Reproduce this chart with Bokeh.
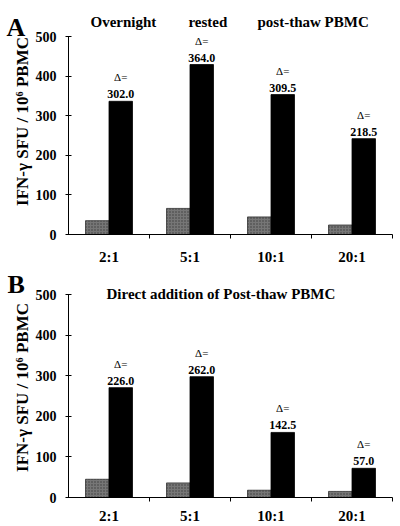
import numpy as np
from bokeh.plotting import figure
from bokeh.models import FixedTicker, Range1d, Label, ColumnDataSource, CustomJSTickFormatter
from bokeh.layouts import column
from bokeh.embed import file_html
from bokeh.resources import INLINE
from bokeh.core.properties import value

categories = ["2:1", "5:1", "10:1", "20:1"]
y_ticks = [0, 100, 200, 300, 400, 500]

a_control = [35, 66, 44.5, 24]
a_stim = [337, 430, 354, 242.5]
a_delta = ["302.0", "364.0", "309.5", "218.5"]

b_control = [45, 36, 18, 15]
b_stim = [271, 298, 160.5, 72]
b_delta = ["226.0", "262.0", "142.5", "57.0"]

a_title = ["Overnight", "rested", "post-thaw PBMC"]
b_title = ["Direct addition of Post-thaw PBMC"]
y_label = "IFN-\u03b3 SFU / 10\u2076 PBMC"

FONT = "Liberation Serif"


def panel(control, stim, deltas, title_words, title_x, title_y, letter,
          letter_offset, letter_standoff, height, border_top, border_bottom,
          y_top, xl_standoff):
    p = figure(width=400, height=height, x_range=Range1d(0, 4),
               y_range=Range1d(0, y_top),
               output_backend="svg", toolbar_location=None,
               min_border_left=68, min_border_right=8,
               min_border_top=border_top, min_border_bottom=border_bottom)
    p.xgrid.visible = False
    p.ygrid.visible = False
    p.outline_line_color = None
    p.background_fill_color = "white"

    centers = np.arange(len(categories)) + 0.5
    bw = 0.29
    src = ColumnDataSource(dict(xc=centers - bw / 2, xs=centers + bw / 2,
                                control=control, stim=stim, delta=deltas,
                                dl=["\u0394="] * len(deltas)))
    p.vbar(x="xc", top="control", bottom=0, width=bw, source=src,
           fill_color="#767676", line_color="#333333", line_width=0.8,
           hatch_pattern="dot", hatch_color="#3c3c3c", hatch_scale=3, hatch_weight=1)
    p.vbar(x="xs", top="stim", bottom=0, width=bw, source=src,
           fill_color="black", line_color="black", line_width=0.8)

    p.text(x="xs", y="stim", text="delta", source=src, text_align="center",
           text_baseline="bottom", y_offset=-3,
           text_font=value(FONT), text_font_style="bold", text_font_size="12px",
           text_color="black")
    p.text(x="xs", y="stim", text="dl", source=src, text_align="center",
           text_baseline="bottom", y_offset=-18,
           text_font=value(FONT), text_font_size="11px", text_color="black")

    xa = p.xaxis[0]
    xa.ticker = FixedTicker(ticks=list(centers), minor_ticks=[1, 2, 3, 4])
    xa.formatter = CustomJSTickFormatter(args=dict(cats=categories),
                                         code="return cats[Math.floor(tick)];")
    xa.major_tick_in = 0
    xa.major_tick_out = 0
    xa.minor_tick_in = 0
    xa.minor_tick_out = 4
    xa.axis_line_color = "black"
    xa.minor_tick_line_color = "black"
    xa.major_label_text_font = FONT
    xa.major_label_text_font_style = "bold"
    xa.major_label_text_font_size = "15px"
    xa.major_label_text_color = "black"
    xa.major_label_standoff = xl_standoff

    ya = p.yaxis[0]
    ya.ticker = FixedTicker(ticks=y_ticks, minor_ticks=[])
    ya.bounds = (0, 500)
    ya.major_tick_in = 3
    ya.major_tick_out = 3
    ya.minor_tick_out = 0
    ya.axis_line_color = "black"
    ya.major_tick_line_color = "black"
    ya.major_label_text_font = FONT
    ya.major_label_text_font_style = "bold"
    ya.major_label_text_font_size = "14px"
    ya.major_label_text_color = "black"
    ya.major_label_standoff = 9
    ya.axis_label = y_label
    ya.axis_label_text_font = FONT
    ya.axis_label_text_font_style = "bold"
    ya.axis_label_text_font_size = "17px"
    ya.axis_label_text_color = "black"
    ya.axis_label_standoff = 1

    for word, tx in zip(title_words, title_x):
        p.add_layout(Label(x=tx, y=title_y, text=word, text_align="left",
                           text_baseline="alphabetic", text_font=FONT,
                           text_font_style="bold", text_font_size="15px",
                           text_color="black"))

    t = p.title
    t.text = letter
    t.align = "left"
    t.vertical_align = "bottom"
    t.offset = letter_offset
    t.standoff = letter_standoff
    t.text_font = FONT
    t.text_font_style = "bold"
    t.text_font_size = "26px"
    t.text_color = "black"
    return p


# panel A: frame top at 8px, 500 at 37px, 0 at 239px
pa = panel(a_control, a_stim, a_delta, a_title, [0.272, 1.481, 2.333], 538,
           "A", -62, -67, 267, 8, 28, 571.8, 10)
# panel B: frame top at 10px, 500 at 27.3px, 0 at 229.7px (figure starts at 267)
pb = panel(b_control, b_stim, b_delta, b_title, [0.469], 501,
           "B", -61, -43.2, 259, 10, 29, 542.7, 6)

layout = column(pa, pb, spacing=0)
open("out.html", "w").write(file_html(layout, INLINE))
